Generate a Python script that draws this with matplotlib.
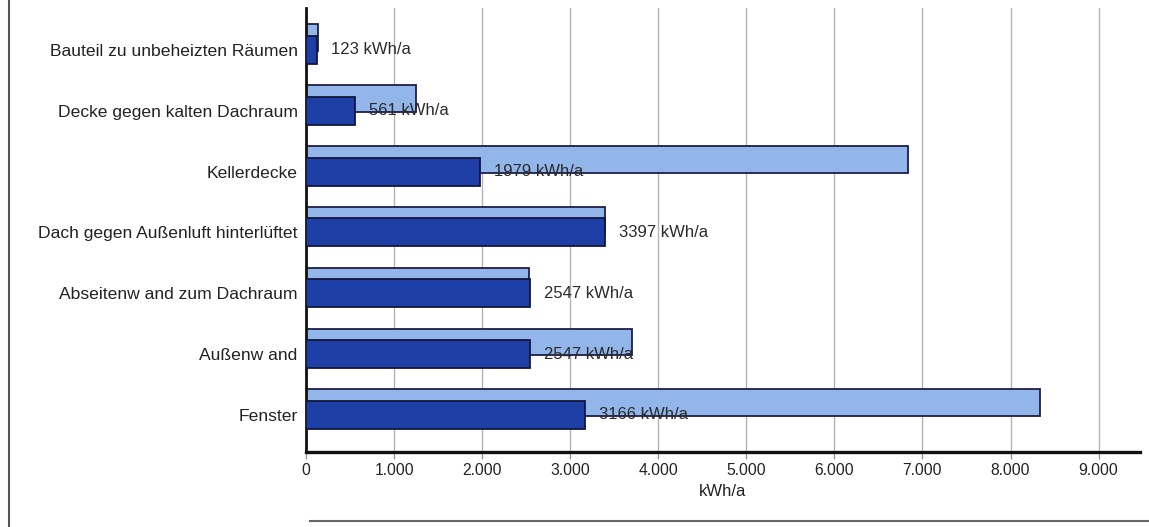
import numpy as np
import matplotlib
matplotlib.use('Agg')
import matplotlib.pyplot as plt
from matplotlib.lines import Line2D
from matplotlib.ticker import FuncFormatter

plt.rcParams['font.family'] = ['Liberation Sans', 'DejaVu Sans']

# data (top to bottom)
categories = ['Bauteil zu unbeheizten Räumen', 'Decke gegen kalten Dachraum', 'Kellerdecke',
              'Dach gegen Außenluft hinterlüftet', 'Abseitenw and zum Dachraum', 'Außenw and', 'Fenster']
light_vals = [140, 1250, 6830, 3390, 2530, 3700, 8340]
dark_vals = [123, 561, 1979, 3397, 2547, 2547, 3166]
x_ticks = [0, 1000, 2000, 3000, 4000, 5000, 6000, 7000, 8000, 9000]

fig = plt.figure(figsize=(11.49, 5.27), dpi=100)
ax = fig.add_axes([306 / 1149, 75 / 527, (1140 - 306) / 1149, (452 - 8) / 527])

y = np.arange(len(categories))

# light bars sit a bit higher, dark bars in front
ax.barh(y - 0.2, light_vals, height=0.44, color='#92b5ea', edgecolor='#1c1f45', linewidth=1.3, zorder=2)
ax.barh(y, dark_vals, height=0.46, color='#1e40a6', edgecolor='#14173a', linewidth=1.3, zorder=3)

for yi, v in zip(y, dark_vals):
    ax.annotate(f'{v} kWh/a', xy=(v, yi), xytext=(10, 0), textcoords='offset points',
                va='center', ha='left', fontsize=12, color='#2a2a2a', zorder=4)

ax.set_yticks(y)
ax.set_yticklabels(categories, fontsize=12.6, color='#222222')
ax.tick_params(axis='y', length=0, pad=6)

ax.set_xticks(x_ticks)
ax.xaxis.set_major_formatter(FuncFormatter(lambda v, p: f'{int(v):,}'.replace(',', '.')))
ax.tick_params(axis='x', labelsize=11.3, colors='#999999', length=5, width=1, pad=3, labelcolor='#222222')
ax.set_xlabel('kWh/a', fontsize=12, color='#222222', labelpad=4)

ax.set_xlim(0, 9470)
ax.set_ylim(6.61, -0.69)

ax.grid(axis='x', color='#b5b5b5', linewidth=1.0, zorder=0)
ax.set_axisbelow(True)

ax.spines['top'].set_visible(False)
ax.spines['right'].set_visible(False)
ax.spines['left'].set_linewidth(2.0)
ax.spines['bottom'].set_linewidth(2.4)
ax.spines['left'].set_color('#111111')
ax.spines['bottom'].set_color('#111111')

# scanned page frame
fig.add_artist(Line2D([9 / 1149, 9 / 1149], [0, 1], color='#555555', linewidth=1.5))
fig.add_artist(Line2D([0.27, 1.0], [6 / 527, 6 / 527], color='#666666', linewidth=1.5))

fig.savefig('out.png', dpi=100)
